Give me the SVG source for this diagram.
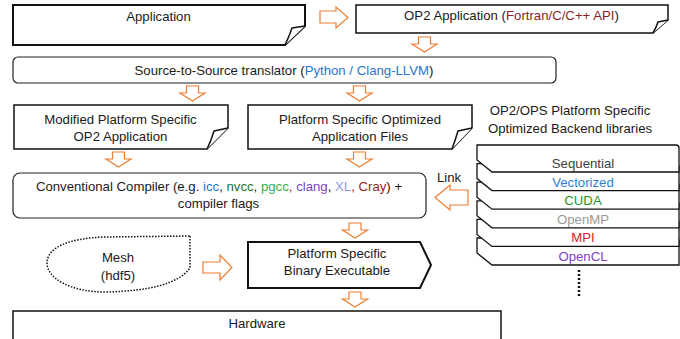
<svg xmlns="http://www.w3.org/2000/svg" width="680" height="339" viewBox="0 0 680 339">
<style>
text{font-family:"Liberation Sans",Arial,sans-serif;font-size:13.2px;fill:#1a1a1a;text-anchor:middle}
.box{fill:#fff;stroke:#111;stroke-width:1.5}
.thick{fill:#fff;stroke:#111;stroke-width:2}
.rr{fill:#fff;stroke:#222;stroke-width:1.2}
.fold{fill:#fff;stroke:#111;stroke-width:1.5;stroke-linejoin:round}
.oa{fill:#fff;stroke:#ED7D31;stroke-width:1.2}
.layer{fill:#fff;stroke:#111;stroke-width:1.3}
</style>
<defs>
<path id="dn" class="oa" d="M-6,0 H6 V7 H12.5 L0,15 L-12.5,7 H-6 Z"/>
</defs>

<g id="connectors">
<path class="oa" d="M320,11 H336 V7 L348,17.5 L336,28 V23 H320 Z"/>
<use href="#dn" x="424.5" y="37"/>
<use href="#dn" x="192.5" y="86"/>
<use href="#dn" x="359.5" y="86"/>
<use href="#dn" x="118.5" y="152"/>
<use href="#dn" x="359.5" y="152"/>
<use href="#dn" x="355" y="223"/>
<use href="#dn" x="355" y="292"/>
<path class="oa" d="M468,190 H450 V185 L435,197.5 L450,210 V205 H468 Z"/>
<path class="oa" d="M203,262 H220 V255 L232,267.5 L220,280 V273 H203 Z"/>
<text x="449" y="182">Link</text>
</g>

<g id="application">
<path class="thick" d="M13,5 H305 V26 L285,45 H13 Z"/>
<path class="fold" d="M305,26 L292,28 Q289,37 285,45"/>
<text x="158.5" y="21">Application</text>
</g>

<g id="op2app">
<path class="box" d="M356,5 H668 V20 L653,33 H356 Z"/>
<path class="fold" d="M668,20 L658,22 Q656,28 653,33"/>
<text x="511.5" y="20">OP2 Application (<tspan style="fill:#8B1F1F">Fortran/C/C++ API</tspan>)</text>
</g>

<g id="translator">
<rect class="rr" x="13" y="57" width="543" height="26" rx="5"/>
<text x="284" y="75">Source-to-Source translator (<tspan style="fill:#2478CC">Python / Clang-LLVM</tspan>)</text>
</g>

<g id="modified">
<path class="box" d="M14,105 H228 V128 L207,149 H14 Z"/>
<path class="fold" d="M228,128 L214,131 Q211,141 207,149"/>
<text x="120.5" y="124">Modified Platform Specific</text>
<text x="120.5" y="141">OP2 Application</text>
</g>

<g id="optfiles">
<path class="box" d="M248,105 H472 V128 L452,149 H248 Z"/>
<path class="fold" d="M472,128 L458,131 Q455,141 452,149"/>
<text x="360" y="124">Platform Specific Optimized</text>
<text x="360" y="141">Application Files</text>
</g>

<g id="compiler">
<rect class="rr" x="13" y="173" width="413" height="45" rx="7"/>
<text x="219" y="191">Conventional Compiler (e.g. <tspan style="fill:#2478CC">icc</tspan>, <tspan style="fill:#1E6E1E">nvcc</tspan>, <tspan style="fill:#2DB34A">pgcc</tspan><tspan style="fill:#B02020">,</tspan> <tspan style="fill:#7B3FC0">clang</tspan>, <tspan style="fill:#8C9BE0">XL</tspan><tspan style="fill:#B02020">,</tspan> <tspan style="fill:#9A1E1E">Cray</tspan>) +</text>
<text x="218.5" y="208">compiler flags</text>
</g>

<g id="backend">
<text x="570" y="115">OP2/OPS Platform Specific</text>
<text x="570" y="133">Optimized Backend libraries</text>
<path class="layer" d="M477,238 H676 Q679,238 679,241 V265 H492 L477,253 Z"/>
<path class="layer" d="M477,219.4 H676 Q679,219.4 679,222.4 V246.4 H492 L477,234.4 Z"/>
<path class="layer" d="M477,200.8 H676 Q679,200.8 679,203.8 V227.8 H492 L477,215.8 Z"/>
<path class="layer" d="M477,182.2 H676 Q679,182.2 679,185.2 V209.2 H492 L477,197.2 Z"/>
<path class="layer" d="M477,163.6 H676 Q679,163.6 679,166.6 V190.6 H492 L477,178.6 Z"/>
<path class="layer" d="M477,145 H676 Q679,145 679,148 V172 H492 L477,160 Z"/>
<text x="583" y="168" style="fill:#404040">Sequential</text>
<text x="583" y="187" style="fill:#2E7FD0">Vectorized</text>
<text x="583" y="205" style="fill:#1E961E">CUDA</text>
<text x="583" y="224" style="fill:#9A9A9A">OpenMP</text>
<text x="583" y="242" style="fill:#D92020">MPI</text>
<text x="583" y="261" style="fill:#7B3FC0">OpenCL</text>
<line x1="579" y1="270" x2="579" y2="296" stroke="#111" stroke-width="2.5" stroke-dasharray="2 2"/>
</g>

<g id="mesh">
<path d="M190,236 L190,268 C178,284 150,291 105,292 C70,292 47,278 47,263 C47,248 68,238 105,237 Z" fill="#fff" stroke="#111" stroke-width="1.5" stroke-dasharray="1.5 1.5"/>
<text x="118" y="262">Mesh</text>
<text x="118" y="280">(hdf5)</text>
</g>

<g id="binary">
<path class="thick" d="M248,242 H420 L431,265 L420,288 H248 Z"/>
<text x="337" y="258">Platform Specific</text>
<text x="337" y="275">Binary Executable</text>
</g>

<g id="hardware">
<rect class="box" x="13" y="311" width="488" height="40"/>
<text x="257" y="328">Hardware</text>
</g>
</svg>
